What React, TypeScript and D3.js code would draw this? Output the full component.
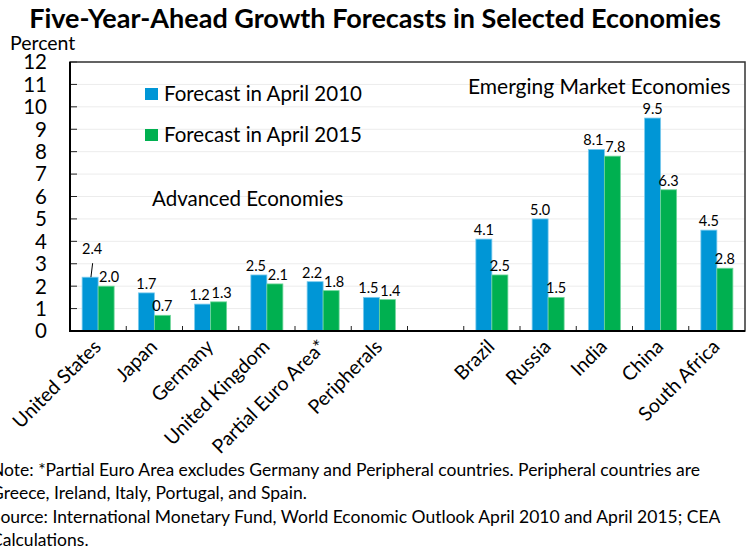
import React from "react";
import * as d3 from "d3";

const categories = [
  "United States", "Japan", "Germany", "United Kingdom", "Partial Euro Area*", "Peripherals",
  "", "Brazil", "Russia", "India", "China", "South Africa",
];
const april2010 = [2.4, 1.7, 1.2, 2.5, 2.2, 1.5, null, 4.1, 5.0, 8.1, 9.5, 4.5];
const april2015 = [2.0, 0.7, 1.3, 2.1, 1.8, 1.4, null, 2.5, 1.5, 7.8, 6.3, 2.8];
const seriesNames = ["Forecast in April 2010", "Forecast in April 2015"];
const colors = ["#0096D6", "#00B050"];
const yTicks = d3.range(0, 13);
const noteLines = [
  "Note: *Partial Euro Area excludes Germany and Peripheral countries. Peripheral countries are",
  "Greece, Ireland, Italy, Portugal, and Spain.",
  "Source: International Monetary Fund, World Economic Outlook April 2010 and April 2015; CEA",
  "Calculations.",
];

const W = 746, H = 550;
const FONT = "Lato, 'Open Sans', sans-serif";

export default function App() {
  const left = 70, right = 745, top = 62, bottom = 331;
  const x = d3.scaleBand<string>().domain(categories.map((c, i) => `${i}`)).range([left, right]).padding(0);
  const y = d3.scaleLinear().domain([0, 12]).range([bottom, top]);
  const barW = 16;
  const inner = d3.scaleBand<number>().domain([0, 1]).range([0, barW * 2]);
  const series = [april2010, april2015];

  return (
    <svg width={W} height={H} style={{ position: "absolute", left: 0, top: 0, background: "#fff" }} fontFamily={FONT}>
      <text x={375} y={28} textAnchor="middle" fontSize={27} fontWeight="bold">
        Five-Year-Ahead Growth Forecasts in Selected Economies
      </text>
      <text x={10} y={50} fontSize={19.5}>Percent</text>

      {/* gridlines */}
      {yTicks.map((t) => (
        <line key={`g${t}`} x1={left} x2={right} y1={y(t)} y2={y(t)} stroke="#ececec" strokeWidth={1} />
      ))}
      {/* y ticks and labels */}
      {yTicks.map((t) => (
        <g key={`t${t}`}>
          <line x1={left} x2={left + 7} y1={y(t)} y2={y(t)} stroke="#222" strokeWidth={1} />
          <text x={47} y={y(t)} dy="0.36em" textAnchor="end" fontSize={20.5}>{t}</text>
        </g>
      ))}

      {/* bars */}
      {series.map((vals, si) =>
        vals.map((v, i) => {
          if (v == null) return null;
          const cx = (x(`${i}`) as number) + x.bandwidth() / 2 - barW;
          const bx = cx + (inner(si) as number);
          return (
            <rect key={`b${si}-${i}`} x={bx} y={y(v)} width={barW} height={bottom - y(v)}
              fill={colors[si]} stroke={si === 0 ? "#7ccbee" : "#6fd69b"} strokeWidth={0.8} />
          );
        })
      )}

      {/* data labels */}
      {series.map((vals, si) =>
        vals.map((v, i) => {
          if (v == null) return null;
          const other = series[1 - si][i] as number;
          const cx = (x(`${i}`) as number) + x.bandwidth() / 2 - barW + (inner(si) as number) + barW / 2;
          const close = Math.abs(v - other) < 0.5;
          const dx = close ? (si === 0 ? -3 : 3) : 0;
          if (i === 0 && si === 0) {
            return (
              <g key={`l${si}-${i}`}>
                <line x1={cx + 2.5} y1={y(v) - 14} x2={cx + 0.8} y2={y(v)} stroke="#000" strokeWidth={1} />
                <text x={cx + 2} y={y(v) - 23} textAnchor="middle" fontSize={14.5}>{v.toFixed(1)}</text>
              </g>
            );
          }
          return (
            <text key={`l${si}-${i}`} x={cx + dx} y={y(v) - 4} textAnchor="middle" fontSize={14.5}>
              {v.toFixed(1)}
            </text>
          );
        })
      )}

      {/* x ticks */}
      {categories.slice(1).map((c, i) => {
        const tx = x(`${i + 1}`) as number;
        return <line key={`xt${i}`} x1={tx} x2={tx} y1={bottom} y2={bottom - 5} stroke="#222" strokeWidth={1} />;
      })}

      {/* frame */}
      <rect x={left} y={top} width={right - left} height={bottom - top} fill="none" stroke="#333" strokeWidth={1.5} />
      <line x1={left} x2={left} y1={top} y2={bottom + 1} stroke="#000" strokeWidth={2} />
      <line x1={left} x2={right} y1={bottom} y2={bottom} stroke="#000" strokeWidth={2} />

      {/* category labels */}
      {categories.map((c, i) => {
        if (!c) return null;
        const cx = (x(`${i}`) as number) + x.bandwidth() / 2 + 4;
        return (
          <text key={`c${i}`} transform={`translate(${cx},${bottom + 17}) rotate(-45)`} textAnchor="end" fontSize={19.5}>
            {c}
          </text>
        );
      })}

      {/* legend */}
      {seriesNames.map((n, i) => (
        <g key={`lg${i}`} transform={`translate(145,${88 + i * 41})`}>
          <rect x={0} y={0} width={13} height={12} fill={colors[i]} />
          <text x={19} y={6} dy="0.36em" fontSize={20.5}>{n}</text>
        </g>
      ))}
      <text x={152} y={206} fontSize={20.5}>Advanced Economies</text>
      <text x={468} y={94} fontSize={21}>Emerging Market Economies</text>

      {/* notes */}
      {noteLines.map((l, i) => (
        <text key={`n${i}`} x={-9} y={476} dy={i * 23.3} fontSize={17.5}>{l}</text>
      ))}
    </svg>
  );
}
